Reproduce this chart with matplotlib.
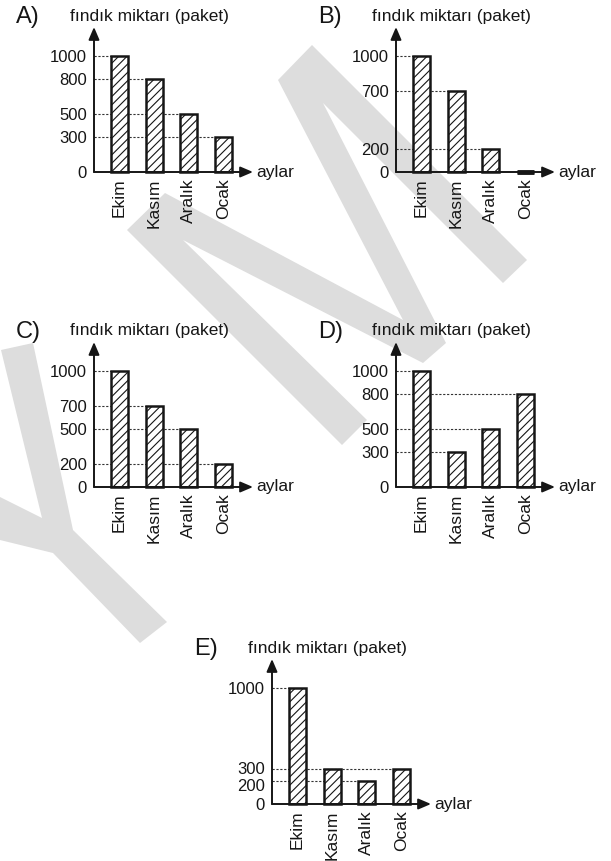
import matplotlib
matplotlib.use('Agg')
import matplotlib.pyplot as plt
from matplotlib.patches import Polygon
from matplotlib.transforms import ScaledTranslation
import numpy as np

# ---------------- data ----------------
months = ['Ekim', 'Kasım', 'Aralık', 'Ocak']
values_A = [1000, 800, 500, 300]
values_B = [1000, 700, 200, 0]
values_C = [1000, 700, 500, 200]
values_D = [1000, 300, 500, 800]
values_E = [1000, 300, 200, 300]
option_letters = ['A)', 'B)', 'C)', 'D)', 'E)']
y_title = 'fındık miktarı (paket)'
x_title = 'aylar'

# ---------------- layout (pixels) ----------------
W, H = 611, 861
origins = [(94, 172), (396, 172), (94, 487), (396, 487), (272, 804)]
AX_W, AX_H = 159, 145          # axis arrow lengths
PX_PER_1000 = 116
YMAX = 1000 * AX_H / PX_PER_1000
PITCH, FIRST, BAR_W = 34.67, 25.5, 17
MIN_LABEL_GAP = 17             # px between stacked tick labels

plt.rcParams['font.family'] = ['Liberation Sans', 'DejaVu Sans']
plt.rcParams['hatch.linewidth'] = 0.8
INK = '#161616'

fig = plt.figure(figsize=(W / 100, H / 100), dpi=100)

# background watermark
bg = fig.add_axes([0, 0, 1, 1], zorder=0)
bg.set_xlim(0, W)
bg.set_ylim(H, 0)
bg.axis('off')
wm_color = '#dddddd'
M_poly = [(127, 230), (165, 193), (403, 320), (278, 80), (312, 45), (527, 260),
          (503, 283), (323, 103), (446, 343), (423, 363), (183, 240), (367, 420),
          (342, 445)]
Y_poly = [(1, 350), (33, 343), (73, 530), (167, 622), (140, 643), (53, 553),
          (0, 540), (0, 497), (42, 518)]
for poly in (M_poly, Y_poly):
    bg.add_patch(Polygon(poly, closed=True, facecolor=wm_color, edgecolor='none'))


def label_offsets(ticks):
    """pixel shifts (positive = up) so that stacked tick labels do not collide"""
    pos = [t / YMAX * AX_H for t in ticks]
    shift = [0.0] * len(ticks)
    for i in range(1, len(ticks)):
        gap = (pos[i] + shift[i]) - (pos[i - 1] + shift[i - 1])
        if gap < MIN_LABEL_GAP and ticks[i - 1] != 0:
            need = MIN_LABEL_GAP - gap
            shift[i - 1] -= need * 0.7
            shift[i] += need * 0.3
    return shift


def panel(letter, values, X0, Y0):
    ax = fig.add_axes([X0 / W, 1 - Y0 / H, AX_W / W, AX_H / H], zorder=2)
    ax.patch.set_alpha(0)
    x = np.arange(len(months))
    xmin = -FIRST / PITCH
    xmax = (AX_W - FIRST) / PITCH
    ax.set_xlim(xmin, xmax)
    ax.set_ylim(0, YMAX)
    for s in ax.spines.values():
        s.set_visible(False)
    bw = BAR_W / PITCH
    ticks = sorted(set(values) | {0})
    for v in ticks:
        if v == 0:
            continue
        idx = max(i for i, val in enumerate(values) if val == v)
        ax.plot([xmin, x[idx] - bw / 2], [v, v], ls=(0, (2, 1.5)), lw=0.8,
                color='#333333', zorder=1)
    ax.bar(x, values, width=bw, color='white', edgecolor=INK, hatch='////',
           lw=1.8, zorder=2, clip_on=False)
    for xi, v in zip(x, values):
        if v == 0:
            ax.plot([xi - bw / 2, xi + bw / 2], [0, 0], lw=3.5, color=INK,
                    solid_capstyle='butt', zorder=4, clip_on=False)
    ap = dict(arrowstyle='-|>,head_length=0.75,head_width=0.32', mutation_scale=10,
              lw=1.4, color=INK, shrinkA=0, shrinkB=0)
    ax.annotate('', xy=(1, 0), xytext=(0, 0), xycoords='axes fraction', arrowprops=ap, zorder=5)
    ax.annotate('', xy=(0, 1), xytext=(0, 0), xycoords='axes fraction', arrowprops=ap, zorder=5)

    ax.set_yticks(ticks)
    ax.set_yticklabels([str(t) for t in ticks], fontsize=12, color=INK)
    ax.tick_params(axis='y', length=0, pad=5)
    for lab, dy in zip(ax.get_yticklabels(), label_offsets(ticks)):
        if dy:
            lab.set_transform(lab.get_transform() +
                              ScaledTranslation(0, dy / 100, fig.dpi_scale_trans))
    ax.set_xticks(x)
    ax.set_xticklabels(months, rotation=90, fontsize=12.5, color=INK)
    ax.tick_params(axis='x', length=0, pad=4.5)
    ax.annotate(x_title, xy=(1, 0), xycoords='axes fraction', xytext=(2, 0),
                textcoords='offset points', va='center', ha='left', fontsize=12.5, color=INK)
    fig.text((X0 - 24) / W, 1 - (Y0 - 156) / H, y_title, va='center', ha='left',
             fontsize=12.5, color=INK)
    fig.text((X0 - 78) / W, 1 - (Y0 - 155) / H, letter, va='center', ha='left',
             fontsize=17, color=INK)


all_values = [values_A, values_B, values_C, values_D, values_E]
for letter, vals, (X0, Y0) in zip(option_letters, all_values, origins):
    panel(letter, vals, X0, Y0)

fig.savefig('out.png', dpi=100)
